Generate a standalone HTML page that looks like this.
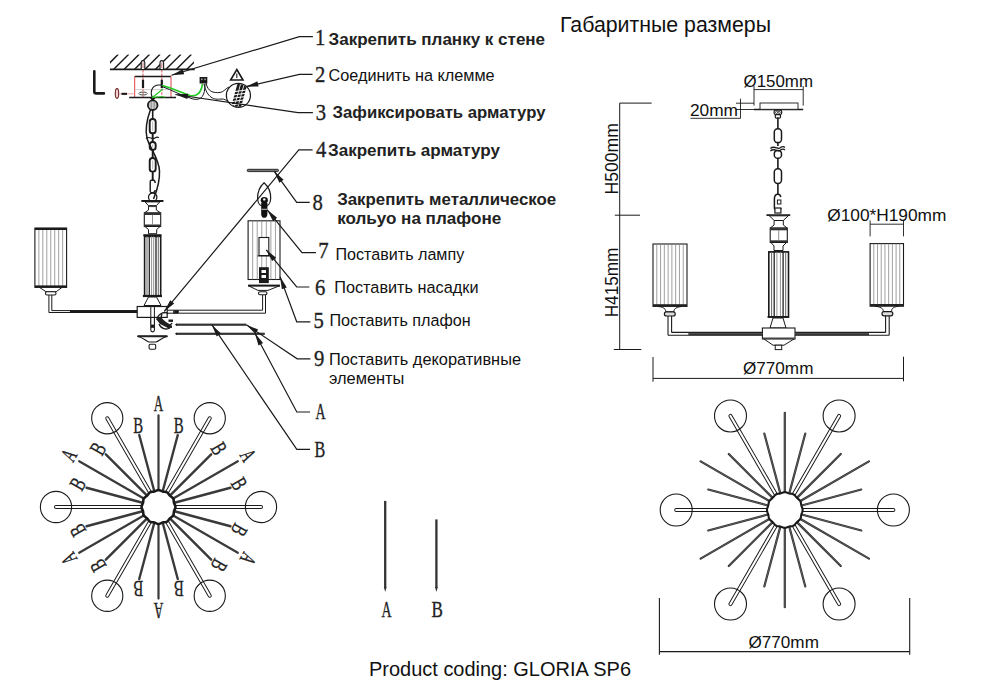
<!DOCTYPE html>
<html><head><meta charset="utf-8">
<style>
html,body{margin:0;padding:0;background:#fff;width:1000px;height:690px;overflow:hidden}
svg{display:block}
.s{font-family:"Liberation Sans",sans-serif;fill:#111}
.b{font-weight:bold;fill:#222}
.n{font-family:"Liberation Serif",serif;fill:#222;stroke:#222;stroke-width:0.35}
</style></head><body>
<svg width="1000" height="690" viewBox="0 0 1000 690">
<rect width="1000" height="690" fill="#fff"/>
<clipPath id="hc"><rect x="110" y="54.4" width="84" height="14.9"/></clipPath>
<g clip-path="url(#hc)">
<line x1="103.30" y1="69.30" x2="118.30" y2="54.30" stroke="#1a1a1a" stroke-width="1.5" />
<line x1="113.75" y1="69.30" x2="128.75" y2="54.30" stroke="#1a1a1a" stroke-width="1.5" />
<line x1="124.20" y1="69.30" x2="139.20" y2="54.30" stroke="#1a1a1a" stroke-width="1.5" />
<line x1="134.65" y1="69.30" x2="149.65" y2="54.30" stroke="#1a1a1a" stroke-width="1.5" />
<line x1="145.10" y1="69.30" x2="160.10" y2="54.30" stroke="#1a1a1a" stroke-width="1.5" />
<line x1="155.55" y1="69.30" x2="170.55" y2="54.30" stroke="#1a1a1a" stroke-width="1.5" />
<line x1="166.00" y1="69.30" x2="181.00" y2="54.30" stroke="#1a1a1a" stroke-width="1.5" />
<line x1="176.45" y1="69.30" x2="191.45" y2="54.30" stroke="#1a1a1a" stroke-width="1.5" />
<line x1="186.90" y1="69.30" x2="201.90" y2="54.30" stroke="#1a1a1a" stroke-width="1.5" />
<line x1="197.35" y1="69.30" x2="212.35" y2="54.30" stroke="#1a1a1a" stroke-width="1.5" />
</g>
<line x1="110.00" y1="69.30" x2="194.70" y2="69.30" stroke="#1a1a1a" stroke-width="1.8" />
<path d="M141.2,69 L141.2,62.5 C141.2,60 144.8,60 144.8,62.5 L144.8,69" fill="#eee" stroke="#1a1a1a" stroke-width="1.1" />
<line x1="143.00" y1="62.50" x2="143.00" y2="68.00" stroke="#c66" stroke-width="0.8" />
<path d="M160.0,69 L160.0,62.5 C160.0,60 163.60000000000002,60 163.60000000000002,62.5 L163.60000000000002,69" fill="#eee" stroke="#1a1a1a" stroke-width="1.1" />
<line x1="161.80" y1="62.50" x2="161.80" y2="68.00" stroke="#c66" stroke-width="0.8" />
<line x1="143.00" y1="70.00" x2="143.00" y2="97.30" stroke="#d55" stroke-width="1.0" stroke-dasharray="2.5,1.2"/>
<line x1="161.80" y1="70.00" x2="161.80" y2="97.30" stroke="#d55" stroke-width="1.0" stroke-dasharray="2.5,1.2"/>
<line x1="134.70" y1="76.40" x2="171.00" y2="76.40" stroke="#1a1a1a" stroke-width="1.5" />
<line x1="134.70" y1="76.40" x2="134.70" y2="97.50" stroke="#d44" stroke-width="1.0" />
<line x1="171.00" y1="76.40" x2="171.00" y2="97.50" stroke="#d44" stroke-width="1.0" />
<line x1="134.70" y1="89.60" x2="171.00" y2="89.60" stroke="#bbb" stroke-width="0.7" />
<line x1="129.20" y1="97.50" x2="176.00" y2="97.50" stroke="#1a1a1a" stroke-width="1.6" />
<rect x="141.90" y="79.70" width="2.20" height="8.30" fill="#1a1a1a" stroke="none" stroke-width="1.0" />
<rect x="160.70" y="79.70" width="2.20" height="8.30" fill="#1a1a1a" stroke="none" stroke-width="1.0" />
<ellipse cx="117" cy="93.5" rx="1.7" ry="4.9" fill="#f4d0d0" stroke="#6a2a2a" stroke-width="1.1"/>
<line x1="119.00" y1="93.80" x2="134.70" y2="93.80" stroke="#e99" stroke-width="0.9" />
<rect x="121.50" y="92.80" width="5.50" height="2.10" fill="#1a1a1a" stroke="none" stroke-width="1.0" />
<ellipse cx="143" cy="93.5" rx="4.2" ry="1.5" fill="none" stroke="#333" stroke-width="0.9"/>
<path d="M94.3,71.2 L94.3,91.5 Q94.3,93.4 96.2,93.4 L103.9,93.4" fill="none" stroke="#1a1a1a" stroke-width="2.6" stroke-linecap="round"/>
<path d="M162,85.5 C170,87 180,92 190,95.5 C197,97 201,93 202.5,84" fill="none" stroke="#2c2" stroke-width="1.6" />
<path d="M152,97.5 C156,95 160,91 163,89" fill="none" stroke="#2c2" stroke-width="1.1" />
<path d="M152,97.5 C155,97.5 161,96 165,97" fill="none" stroke="#2c2" stroke-width="1.0" />
<path d="M152,97 C150,91 152,86 158,85 L162,85" fill="none" stroke="#1a1a1a" stroke-width="1.1" />
<path d="M162,86.5 C172,90 182,96 193,99 C202,101 205,95 205,84" fill="none" stroke="#1a1a1a" stroke-width="1.0" />
<rect x="199.60" y="77.00" width="7.70" height="6.50" fill="#1a1a1a" stroke="none" stroke-width="1.0" />
<rect x="201.00" y="78.50" width="1.60" height="1.60" fill="#999" stroke="none" stroke-width="1.0" />
<rect x="204.20" y="78.50" width="1.60" height="1.60" fill="#999" stroke="none" stroke-width="1.0" />
<path d="M206,83 C208,92 213,93 220,92.5 C224,92 226,88 229,87" fill="none" stroke="#1a1a1a" stroke-width="1.0" />
<path d="M204,84 C207,98 214,100 221,99 C225,98.5 227,101 229,103" fill="none" stroke="#1a1a1a" stroke-width="1.0" />
<circle cx="238.40" cy="95.40" r="12.00" fill="#fff" stroke="#1a1a1a" stroke-width="1.3"/>
<clipPath id="cz"><circle cx="238.4" cy="95.4" r="11.4"/></clipPath><g clip-path="url(#cz)">
<polygon points="230.50,109.00 233.30,109.00 241.00,81.00 238.20,81.00" fill="#1a1a1a" stroke="none" stroke-width="0"/>
<polygon points="234.10,109.00 236.90,109.00 244.60,81.00 241.80,81.00" fill="#1a1a1a" stroke="none" stroke-width="0"/>
<polygon points="237.70,109.00 240.50,109.00 248.20,81.00 245.40,81.00" fill="#1a1a1a" stroke="none" stroke-width="0"/>
<line x1="224.00" y1="93.00" x2="254.00" y2="89.00" stroke="#fff" stroke-width="1.0" />
<line x1="224.00" y1="96.20" x2="254.00" y2="92.20" stroke="#fff" stroke-width="1.0" />
<line x1="224.00" y1="99.40" x2="254.00" y2="95.40" stroke="#fff" stroke-width="1.0" />
<line x1="224.00" y1="102.60" x2="254.00" y2="98.60" stroke="#fff" stroke-width="1.0" />
<line x1="224.00" y1="105.80" x2="254.00" y2="101.80" stroke="#fff" stroke-width="1.0" />
</g>
<polygon points="236.80,69.50 243.00,80.00 230.60,80.00" fill="none" stroke="#1a1a1a" stroke-width="1.6"/>
<line x1="236.80" y1="73.50" x2="236.80" y2="78.00" stroke="#1a1a1a" stroke-width="1.1" />
<polygon points="150.00,98.00 155.50,98.00 152.70,101.50" fill="#1a1a1a" stroke="none" stroke-width="0"/>
<circle cx="152.70" cy="105.20" r="4.80" fill="#ccc" stroke="#1a1a1a" stroke-width="1.8"/>
<line x1="151.20" y1="101.00" x2="151.20" y2="109.00" stroke="#777" stroke-width="0.8" />
<line x1="154.20" y1="101.00" x2="154.20" y2="109.00" stroke="#777" stroke-width="0.8" />
<line x1="152.70" y1="110.00" x2="152.70" y2="119.00" stroke="#1a1a1a" stroke-width="1.6" />
<rect x="149.70" y="119.00" width="6.0" height="14.30" rx="2.9" fill="#fff" stroke="#1a1a1a" stroke-width="1.9"/>
<line x1="152.70" y1="121.50" x2="152.70" y2="130.80" stroke="#999" stroke-width="0.7" />
<rect x="149.70" y="142.00" width="6.0" height="8.00" rx="2.9" fill="#fff" stroke="#1a1a1a" stroke-width="1.9"/>
<line x1="152.70" y1="144.50" x2="152.70" y2="147.50" stroke="#999" stroke-width="0.7" />
<rect x="149.70" y="158.00" width="6.0" height="13.60" rx="2.9" fill="#fff" stroke="#1a1a1a" stroke-width="1.9"/>
<line x1="152.70" y1="160.50" x2="152.70" y2="169.10" stroke="#999" stroke-width="0.7" />
<line x1="152.70" y1="133.30" x2="152.70" y2="142.00" stroke="#1a1a1a" stroke-width="1.9" />
<line x1="152.70" y1="150.00" x2="152.70" y2="158.00" stroke="#1a1a1a" stroke-width="1.9" />
<line x1="152.70" y1="171.60" x2="152.70" y2="181.00" stroke="#1a1a1a" stroke-width="1.9" />
<path d="M150.2,182 C150.2,179 155.2,179 155.2,183 M150.2,182 L150.2,191 C150.7,194 155.2,193 155.2,190" fill="none" stroke="#1a1a1a" stroke-width="1.4" />
<circle cx="152.70" cy="197.20" r="4.20" fill="#fff" stroke="#1a1a1a" stroke-width="1.3"/>
<path d="M150.5,109.5 C146,122 145.5,132 147,138 C149,147 159,158 159.5,171 C160,183 156,193 153.5,199" fill="none" stroke="#1a1a1a" stroke-width="1.5" />
<path d="M146,138.5 C149,135.5 152,140 155,138 C156.5,137 158,137 158.7,138" fill="none" stroke="#1a1a1a" stroke-width="1.1" />
<rect x="141.10" y="200.10" width="22.60" height="1.80" fill="#1a1a1a" stroke="none" stroke-width="1.0" rx="0.8"/>
<polygon points="145.00,201.90 159.80,201.90 156.30,205.70 148.50,205.70" fill="#fff" stroke="#1a1a1a" stroke-width="1"/>
<polygon points="148.50,205.70 156.30,205.70 156.30,210.00 160.70,213.00 144.30,213.00 148.50,210.00" fill="#fff" stroke="#1a1a1a" stroke-width="1"/>
<rect x="148.50" y="205.70" width="7.80" height="1.40" fill="#444" stroke="none" stroke-width="1.0" />
<rect x="144.30" y="213.00" width="16.40" height="13.50" fill="#fff" stroke="#1a1a1a" stroke-width="1.1" />
<rect x="144.30" y="213.00" width="16.40" height="2.00" fill="#333" stroke="none" stroke-width="1.0" />
<rect x="144.30" y="224.50" width="16.40" height="2.00" fill="#333" stroke="none" stroke-width="1.0" />
<line x1="152.50" y1="215.00" x2="152.50" y2="224.50" stroke="#777" stroke-width="0.8" />
<polygon points="145.00,226.50 160.00,226.50 156.70,229.50 156.70,233.70 148.50,233.70 148.50,229.50" fill="#fff" stroke="#1a1a1a" stroke-width="1"/>
<rect x="143.30" y="234.20" width="18.20" height="2.20" fill="#1a1a1a" stroke="none" stroke-width="1.0" />
<rect x="144.60" y="236.40" width="16.10" height="59.40" fill="#fff" stroke="#1a1a1a" stroke-width="1.6" />
<line x1="147.00" y1="236.40" x2="147.00" y2="295.80" stroke="#666" stroke-width="1.0" />
<line x1="149.30" y1="236.40" x2="149.30" y2="295.80" stroke="#222" stroke-width="1.3" />
<line x1="151.60" y1="236.40" x2="151.60" y2="295.80" stroke="#888" stroke-width="0.9" />
<line x1="153.70" y1="236.40" x2="153.70" y2="295.80" stroke="#888" stroke-width="0.9" />
<line x1="156.00" y1="236.40" x2="156.00" y2="295.80" stroke="#222" stroke-width="1.3" />
<line x1="158.30" y1="236.40" x2="158.30" y2="295.80" stroke="#666" stroke-width="1.0" />
<rect x="142.90" y="294.90" width="19.10" height="2.20" fill="#1a1a1a" stroke="none" stroke-width="1.0" />
<polygon points="148.50,297.00 156.50,297.00 161.00,305.50 144.00,305.50" fill="#fff" stroke="#1a1a1a" stroke-width="1"/>
<rect x="137.20" y="306.50" width="30.00" height="10.90" fill="#fff" stroke="#1a1a1a" stroke-width="1.2" />
<line x1="150.80" y1="306.50" x2="150.80" y2="324.00" stroke="#1a1a1a" stroke-width="1.0" />
<line x1="154.40" y1="306.50" x2="154.40" y2="324.00" stroke="#1a1a1a" stroke-width="1.0" />
<path d="M150.8,318 L150.8,330 C150.8,332.5 154.4,332.5 154.4,330 L154.4,318" fill="#fff" stroke="#1a1a1a" stroke-width="1.1" />
<rect x="150.80" y="324.60" width="3.60" height="3.20" fill="#1a1a1a" stroke="none" stroke-width="1.0" />
<path d="M157,319.5 C158,313 166,311 168,314" fill="none" stroke="#1a1a1a" stroke-width="1.3" />
<path d="M162,314 C160,317 162,322 166,324 C169,326 171,325 172,323" fill="none" stroke="#1a1a1a" stroke-width="1.4" />
<polygon points="156.00,319.00 160.00,317.00 166.00,322.00 171.00,325.00 168.00,328.00 160.00,324.00" fill="#222" stroke="none" stroke-width="0"/>
<path d="M159,324 C161,329 166,330 170,328" fill="none" stroke="#1a1a1a" stroke-width="1.3" />
<rect x="168.50" y="319.50" width="4.50" height="2.40" fill="#1a1a1a" stroke="none" stroke-width="1.0" />
<rect x="167.50" y="325.50" width="4.50" height="2.40" fill="#1a1a1a" stroke="none" stroke-width="1.0" />
<rect x="173.00" y="310.40" width="5.00" height="3.20" fill="#444" stroke="none" stroke-width="1.0" />
<path d="M137.5,336.2 L167.5,336.2 C162,337.5 159,341 156,342 L148.8,342 C146,341 143,337.5 137.5,336.2 Z" fill="#fff" stroke="#1a1a1a" stroke-width="1.1" />
<rect x="137.20" y="335.30" width="30.50" height="1.90" fill="#222" stroke="none" stroke-width="1.0" rx="0.9"/>
<rect x="149.10" y="344.20" width="6.60" height="5.10" fill="#fff" stroke="#1a1a1a" stroke-width="1.1" rx="1.2"/>
<rect x="34.90" y="228.00" width="31.70" height="59.40" fill="#fff" stroke="#1a1a1a" stroke-width="1.1" />
<line x1="38.86" y1="228.00" x2="38.86" y2="287.40" stroke="#808080" stroke-width="0.75" />
<line x1="42.82" y1="228.00" x2="42.82" y2="287.40" stroke="#808080" stroke-width="0.75" />
<line x1="46.79" y1="228.00" x2="46.79" y2="287.40" stroke="#808080" stroke-width="0.75" />
<line x1="50.75" y1="228.00" x2="50.75" y2="287.40" stroke="#808080" stroke-width="0.75" />
<line x1="54.71" y1="228.00" x2="54.71" y2="287.40" stroke="#808080" stroke-width="0.75" />
<line x1="58.67" y1="228.00" x2="58.67" y2="287.40" stroke="#808080" stroke-width="0.75" />
<line x1="62.64" y1="228.00" x2="62.64" y2="287.40" stroke="#808080" stroke-width="0.75" />
<rect x="34.90" y="228.00" width="31.70" height="2.00" fill="#1a1a1a" stroke="none" stroke-width="1.0" />
<rect x="34.90" y="285.40" width="31.70" height="2.00" fill="#1a1a1a" stroke="none" stroke-width="1.0" />
<polygon points="39.50,287.40 62.00,287.40 56.20,291.70 46.00,291.70" fill="#fff" stroke="#1a1a1a" stroke-width="1"/>
<rect x="45.50" y="291.80" width="10.50" height="3.20" fill="#fff" stroke="#1a1a1a" stroke-width="1.1" rx="1.5"/>
<line x1="48.90" y1="295.00" x2="48.90" y2="312.50" stroke="#1a1a1a" stroke-width="1" />
<line x1="51.80" y1="295.00" x2="51.80" y2="310.60" stroke="#1a1a1a" stroke-width="1" />
<line x1="48.90" y1="312.50" x2="137.00" y2="312.50" stroke="#1a1a1a" stroke-width="1.0" />
<line x1="51.80" y1="310.60" x2="137.00" y2="310.60" stroke="#1a1a1a" stroke-width="1.0" />
<rect x="69.90" y="310.40" width="67.10" height="2.60" fill="#1a1a1a" stroke="none" stroke-width="1.0" />
<line x1="167.40" y1="310.20" x2="262.60" y2="310.20" stroke="#1a1a1a" stroke-width="1.0" />
<line x1="167.40" y1="313.20" x2="265.50" y2="313.20" stroke="#1a1a1a" stroke-width="1.0" />
<line x1="262.60" y1="310.20" x2="262.60" y2="294.70" stroke="#1a1a1a" stroke-width="1.0" />
<line x1="265.50" y1="313.20" x2="265.50" y2="294.70" stroke="#1a1a1a" stroke-width="1.0" />
<rect x="174.80" y="310.40" width="4.00" height="2.60" fill="#1a1a1a" stroke="none" stroke-width="1.0" />
<rect x="258.50" y="291.80" width="8.50" height="3.00" fill="#fff" stroke="#1a1a1a" stroke-width="1.1" rx="1.5"/>
<polygon points="248.10,285.60 280.00,285.60 268.00,290.40 258.00,290.40" fill="#fff" stroke="#1a1a1a" stroke-width="1"/>
<rect x="248.10" y="284.60" width="31.90" height="2.00" fill="#1a1a1a" stroke="none" stroke-width="1.0" />
<rect x="248.10" y="220.80" width="31.90" height="58.70" fill="#fff" stroke="#1a1a1a" stroke-width="1.1" />
<line x1="252.66" y1="220.80" x2="252.66" y2="279.50" stroke="#808080" stroke-width="0.75" />
<line x1="257.21" y1="220.80" x2="257.21" y2="279.50" stroke="#808080" stroke-width="0.75" />
<line x1="261.77" y1="220.80" x2="261.77" y2="279.50" stroke="#808080" stroke-width="0.75" />
<line x1="266.33" y1="220.80" x2="266.33" y2="279.50" stroke="#808080" stroke-width="0.75" />
<line x1="270.89" y1="220.80" x2="270.89" y2="279.50" stroke="#808080" stroke-width="0.75" />
<line x1="275.44" y1="220.80" x2="275.44" y2="279.50" stroke="#808080" stroke-width="0.75" />
<rect x="259.00" y="237.50" width="9.80" height="18.10" fill="#fff" stroke="#1a1a1a" stroke-width="1.1" />
<line x1="257.50" y1="255.90" x2="270.00" y2="255.90" stroke="#1a1a1a" stroke-width="1.1" />
<rect x="259.00" y="267.20" width="9.80" height="15.90" fill="#1a1a1a" stroke="none" stroke-width="1.0" />
<rect x="261.50" y="270.00" width="4.50" height="3.00" fill="#fff" stroke="none" stroke-width="1.0" />
<rect x="261.50" y="275.00" width="4.50" height="3.00" fill="#fff" stroke="none" stroke-width="1.0" />
<path d="M264.1,182.8 C260,186.5 257.4,192.5 257.6,198.5 C257.8,203.5 260.5,206.5 264.1,206.5 C267.7,206.5 270.5,203.5 270.7,198.5 C270.9,192.5 268.2,186.5 264.1,182.8 Z" fill="none" stroke="#1a1a1a" stroke-width="1.2" />
<ellipse cx="264.3" cy="200.3" rx="3.6" ry="3.2" fill="#111"/>
<circle cx="264.30" cy="199.40" r="1.20" fill="#fff" stroke="none" stroke-width="1.0"/>
<path d="M261.2,203 L267.4,203 L267.4,214 C267.4,217 265.5,217.8 264.3,217.8 C263,217.8 261.2,217 261.2,214 Z" fill="#111" stroke="none" stroke-width="1.0" />
<line x1="261.50" y1="209.30" x2="267.00" y2="209.30" stroke="#ddd" stroke-width="0.9" />
<rect x="247.20" y="169.30" width="31.30" height="2.30" fill="#777" stroke="#1a1a1a" stroke-width="0.9" rx="1.1"/>
<rect x="176.00" y="323.60" width="70.30" height="2.20" fill="#333" stroke="none" stroke-width="1.0" />
<polygon points="174.60,324.70 177.00,323.60 177.00,325.80" fill="#1a1a1a" stroke="none" stroke-width="0"/>
<rect x="176.00" y="332.70" width="88.80" height="2.20" fill="#333" stroke="none" stroke-width="1.0" />
<polygon points="174.60,333.80 177.00,332.70 177.00,334.90" fill="#1a1a1a" stroke="none" stroke-width="0"/>
<polyline points="312.90,36.60 299.40,36.60 171.50,75.30" fill="none" stroke="#1a1a1a" stroke-width="1.2" />
<polygon points="171.50,75.30 182.71,69.19 184.22,74.17" fill="#1a1a1a" stroke="none" stroke-width="0"/>
<polyline points="312.50,74.30 299.40,74.30 245.80,86.70" fill="none" stroke="#1a1a1a" stroke-width="1.2" />
<polygon points="245.80,86.70 257.39,81.35 258.56,86.42" fill="#1a1a1a" stroke="none" stroke-width="0"/>
<polyline points="312.90,112.70 298.00,112.70 175.40,94.50" fill="none" stroke="#1a1a1a" stroke-width="1.2" />
<polygon points="175.40,94.50 188.15,93.76 187.38,98.91" fill="#1a1a1a" stroke="none" stroke-width="0"/>
<polyline points="312.60,149.90 298.80,149.90 164.20,311.40" fill="none" stroke="#1a1a1a" stroke-width="1.2" />
<polygon points="164.20,311.40 170.21,300.13 174.20,303.46" fill="#1a1a1a" stroke="none" stroke-width="0"/>
<polyline points="309.70,202.30 296.70,202.30 274.10,171.10" fill="none" stroke="#1a1a1a" stroke-width="1.2" />
<polygon points="274.10,171.10 283.54,179.70 279.33,182.75" fill="#1a1a1a" stroke="none" stroke-width="0"/>
<polyline points="315.90,252.60 302.00,252.60 267.20,209.80" fill="none" stroke="#1a1a1a" stroke-width="1.2" />
<polygon points="267.20,209.80 277.10,217.86 273.07,221.14" fill="#1a1a1a" stroke="none" stroke-width="0"/>
<polyline points="309.30,287.00 296.70,287.00 266.20,249.80" fill="none" stroke="#1a1a1a" stroke-width="1.2" />
<polygon points="266.20,249.80 276.14,257.82 272.11,261.11" fill="#1a1a1a" stroke="none" stroke-width="0"/>
<polyline points="310.40,321.80 296.70,321.80 280.00,276.60" fill="none" stroke="#1a1a1a" stroke-width="1.2" />
<polygon points="280.00,276.60 286.77,287.42 281.89,289.23" fill="#1a1a1a" stroke="none" stroke-width="0"/>
<polyline points="310.40,358.80 297.20,358.80 246.30,324.70" fill="none" stroke="#1a1a1a" stroke-width="1.2" />
<polygon points="246.30,324.70 258.13,329.50 255.24,333.82" fill="#1a1a1a" stroke="none" stroke-width="0"/>
<polyline points="310.00,412.00 296.80,412.00 254.90,333.30" fill="none" stroke="#1a1a1a" stroke-width="1.2" />
<polygon points="254.90,333.30 263.07,343.11 258.48,345.56" fill="#1a1a1a" stroke="none" stroke-width="0"/>
<polyline points="310.00,449.40 296.80,449.40 211.80,324.70" fill="none" stroke="#1a1a1a" stroke-width="1.2" />
<polygon points="211.80,324.70 220.99,333.56 216.69,336.49" fill="#1a1a1a" stroke="none" stroke-width="0"/>
<line x1="175.00" y1="507.00" x2="261.00" y2="507.00" stroke="#1a1a1a" stroke-width="4" stroke-linecap="round"/>
<line x1="175.00" y1="507.00" x2="261.00" y2="507.00" stroke="#fff" stroke-width="2.1" stroke-linecap="round"/>
<circle cx="261.00" cy="507.00" r="15.60" fill="none" stroke="#1a1a1a" stroke-width="1.1"/>
<line x1="174.44" y1="502.73" x2="230.46" y2="487.72" stroke="#3a3a3a" stroke-width="2.4" stroke-linecap="round"/>
<g transform="translate(239.25,483.85) rotate(60.0) scale(0.66,1)"><text class="n" x="0" y="7.5" font-size="22.5" text-anchor="middle">B</text></g>
<line x1="172.79" y1="498.75" x2="237.83" y2="461.20" stroke="#3a3a3a" stroke-width="2.2" stroke-linecap="round"/>
<g transform="translate(248.13,455.25) rotate(60.0) scale(0.585,1)"><text class="n" x="0" y="7.5" font-size="22.5" text-anchor="middle">A</text></g>
<line x1="170.17" y1="495.33" x2="211.18" y2="454.32" stroke="#3a3a3a" stroke-width="2.4" stroke-linecap="round"/>
<g transform="translate(218.92,448.65) rotate(60.0) scale(0.66,1)"><text class="n" x="0" y="7.5" font-size="22.5" text-anchor="middle">B</text></g>
<line x1="166.75" y1="492.71" x2="209.75" y2="418.23" stroke="#1a1a1a" stroke-width="4" stroke-linecap="round"/>
<line x1="166.75" y1="492.71" x2="209.75" y2="418.23" stroke="#fff" stroke-width="2.1" stroke-linecap="round"/>
<circle cx="209.75" cy="418.23" r="15.60" fill="none" stroke="#1a1a1a" stroke-width="1.1"/>
<line x1="162.77" y1="491.06" x2="177.78" y2="435.04" stroke="#3a3a3a" stroke-width="2.4" stroke-linecap="round"/>
<g transform="translate(178.82,425.50) rotate(0.0) scale(0.66,1)"><text class="n" x="0" y="7.5" font-size="22.5" text-anchor="middle">B</text></g>
<line x1="158.50" y1="490.50" x2="158.50" y2="415.40" stroke="#3a3a3a" stroke-width="2.2" stroke-linecap="round"/>
<g transform="translate(158.50,403.50) rotate(0.0) scale(0.585,1)"><text class="n" x="0" y="7.5" font-size="22.5" text-anchor="middle">A</text></g>
<line x1="154.23" y1="491.06" x2="139.22" y2="435.04" stroke="#3a3a3a" stroke-width="2.4" stroke-linecap="round"/>
<g transform="translate(138.18,425.50) rotate(0.0) scale(0.66,1)"><text class="n" x="0" y="7.5" font-size="22.5" text-anchor="middle">B</text></g>
<line x1="150.25" y1="492.71" x2="107.25" y2="418.23" stroke="#1a1a1a" stroke-width="4" stroke-linecap="round"/>
<line x1="150.25" y1="492.71" x2="107.25" y2="418.23" stroke="#fff" stroke-width="2.1" stroke-linecap="round"/>
<circle cx="107.25" cy="418.23" r="15.60" fill="none" stroke="#1a1a1a" stroke-width="1.1"/>
<line x1="146.83" y1="495.33" x2="105.82" y2="454.32" stroke="#3a3a3a" stroke-width="2.4" stroke-linecap="round"/>
<g transform="translate(98.08,448.65) rotate(-60.0) scale(0.66,1)"><text class="n" x="0" y="7.5" font-size="22.5" text-anchor="middle">B</text></g>
<line x1="144.21" y1="498.75" x2="79.17" y2="461.20" stroke="#3a3a3a" stroke-width="2.2" stroke-linecap="round"/>
<g transform="translate(68.87,455.25) rotate(-60.0) scale(0.585,1)"><text class="n" x="0" y="7.5" font-size="22.5" text-anchor="middle">A</text></g>
<line x1="142.56" y1="502.73" x2="86.54" y2="487.72" stroke="#3a3a3a" stroke-width="2.4" stroke-linecap="round"/>
<g transform="translate(77.75,483.85) rotate(-60.0) scale(0.66,1)"><text class="n" x="0" y="7.5" font-size="22.5" text-anchor="middle">B</text></g>
<line x1="142.00" y1="507.00" x2="56.00" y2="507.00" stroke="#1a1a1a" stroke-width="4" stroke-linecap="round"/>
<line x1="142.00" y1="507.00" x2="56.00" y2="507.00" stroke="#fff" stroke-width="2.1" stroke-linecap="round"/>
<circle cx="56.00" cy="507.00" r="15.60" fill="none" stroke="#1a1a1a" stroke-width="1.1"/>
<line x1="142.56" y1="511.27" x2="86.54" y2="526.28" stroke="#3a3a3a" stroke-width="2.4" stroke-linecap="round"/>
<g transform="translate(77.75,530.15) rotate(-120.0) scale(0.66,1)"><text class="n" x="0" y="7.5" font-size="22.5" text-anchor="middle">B</text></g>
<line x1="144.21" y1="515.25" x2="79.17" y2="552.80" stroke="#3a3a3a" stroke-width="2.2" stroke-linecap="round"/>
<g transform="translate(68.87,558.75) rotate(-120.0) scale(0.585,1)"><text class="n" x="0" y="7.5" font-size="22.5" text-anchor="middle">A</text></g>
<line x1="146.83" y1="518.67" x2="105.82" y2="559.68" stroke="#3a3a3a" stroke-width="2.4" stroke-linecap="round"/>
<g transform="translate(98.08,565.35) rotate(-120.0) scale(0.66,1)"><text class="n" x="0" y="7.5" font-size="22.5" text-anchor="middle">B</text></g>
<line x1="150.25" y1="521.29" x2="107.25" y2="595.77" stroke="#1a1a1a" stroke-width="4" stroke-linecap="round"/>
<line x1="150.25" y1="521.29" x2="107.25" y2="595.77" stroke="#fff" stroke-width="2.1" stroke-linecap="round"/>
<circle cx="107.25" cy="595.77" r="15.60" fill="none" stroke="#1a1a1a" stroke-width="1.1"/>
<line x1="154.23" y1="522.94" x2="139.22" y2="578.96" stroke="#3a3a3a" stroke-width="2.4" stroke-linecap="round"/>
<g transform="translate(138.18,588.50) rotate(-180.0) scale(0.66,1)"><text class="n" x="0" y="7.5" font-size="22.5" text-anchor="middle">B</text></g>
<line x1="158.50" y1="523.50" x2="158.50" y2="598.60" stroke="#3a3a3a" stroke-width="2.2" stroke-linecap="round"/>
<g transform="translate(158.50,610.50) rotate(-180.0) scale(0.585,1)"><text class="n" x="0" y="7.5" font-size="22.5" text-anchor="middle">A</text></g>
<line x1="162.77" y1="522.94" x2="177.78" y2="578.96" stroke="#3a3a3a" stroke-width="2.4" stroke-linecap="round"/>
<g transform="translate(178.82,588.50) rotate(-180.0) scale(0.66,1)"><text class="n" x="0" y="7.5" font-size="22.5" text-anchor="middle">B</text></g>
<line x1="166.75" y1="521.29" x2="209.75" y2="595.77" stroke="#1a1a1a" stroke-width="4" stroke-linecap="round"/>
<line x1="166.75" y1="521.29" x2="209.75" y2="595.77" stroke="#fff" stroke-width="2.1" stroke-linecap="round"/>
<circle cx="209.75" cy="595.77" r="15.60" fill="none" stroke="#1a1a1a" stroke-width="1.1"/>
<line x1="170.17" y1="518.67" x2="211.18" y2="559.68" stroke="#3a3a3a" stroke-width="2.4" stroke-linecap="round"/>
<g transform="translate(218.92,565.35) rotate(-240.0) scale(0.66,1)"><text class="n" x="0" y="7.5" font-size="22.5" text-anchor="middle">B</text></g>
<line x1="172.79" y1="515.25" x2="237.83" y2="552.80" stroke="#3a3a3a" stroke-width="2.2" stroke-linecap="round"/>
<g transform="translate(248.13,558.75) rotate(-240.0) scale(0.585,1)"><text class="n" x="0" y="7.5" font-size="22.5" text-anchor="middle">A</text></g>
<line x1="174.44" y1="511.27" x2="230.46" y2="526.28" stroke="#3a3a3a" stroke-width="2.4" stroke-linecap="round"/>
<g transform="translate(239.25,530.15) rotate(-240.0) scale(0.66,1)"><text class="n" x="0" y="7.5" font-size="22.5" text-anchor="middle">B</text></g>
<polygon points="175.45,507.00 175.28,508.10 174.86,509.15 174.37,510.16 174.00,511.15 173.82,512.20 173.74,513.31 173.58,514.44 173.18,515.48 172.48,516.34 171.59,517.04 170.67,517.67 169.85,518.35 169.17,519.17 168.54,520.09 167.84,520.98 166.97,521.68 165.94,522.08 164.81,522.24 163.70,522.32 162.65,522.50 161.66,522.87 160.65,523.36 159.60,523.78 158.50,523.95 157.40,523.78 156.35,523.36 155.34,522.87 154.35,522.50 153.30,522.32 152.19,522.24 151.06,522.08 150.03,521.68 149.16,520.98 148.46,520.09 147.83,519.17 147.15,518.35 146.33,517.67 145.41,517.04 144.52,516.34 143.82,515.48 143.42,514.44 143.26,513.31 143.18,512.20 143.00,511.15 142.63,510.16 142.14,509.15 141.72,508.10 141.55,507.00 141.72,505.90 142.14,504.85 142.63,503.84 143.00,502.85 143.18,501.80 143.26,500.69 143.42,499.56 143.82,498.52 144.52,497.66 145.41,496.96 146.33,496.33 147.15,495.65 147.83,494.83 148.46,493.91 149.16,493.02 150.03,492.32 151.06,491.92 152.19,491.76 153.30,491.68 154.35,491.50 155.34,491.13 156.35,490.64 157.40,490.22 158.50,490.05 159.60,490.22 160.65,490.64 161.66,491.13 162.65,491.50 163.70,491.68 164.81,491.76 165.94,491.92 166.97,492.32 167.84,493.02 168.54,493.91 169.17,494.83 169.85,495.65 170.67,496.33 171.59,496.96 172.48,497.66 173.18,498.52 173.58,499.56 173.74,500.69 173.82,501.80 174.00,502.85 174.37,503.84 174.86,504.85 175.28,505.90" fill="#fff" stroke="#1a1a1a" stroke-width="2.6"/>
<line x1="802.30" y1="510.00" x2="893.40" y2="510.00" stroke="#1a1a1a" stroke-width="4" stroke-linecap="round"/>
<line x1="802.30" y1="510.00" x2="893.40" y2="510.00" stroke="#fff" stroke-width="2.1" stroke-linecap="round"/>
<circle cx="893.40" cy="510.00" r="16.00" fill="none" stroke="#1a1a1a" stroke-width="1.1"/>
<line x1="801.70" y1="505.47" x2="861.30" y2="489.50" stroke="#2e2e2e" stroke-width="2.2" stroke-linecap="round"/>
<line x1="801.70" y1="505.47" x2="861.30" y2="489.50" stroke="#8a8a8a" stroke-width="0.5" stroke-linecap="round"/>
<line x1="799.96" y1="501.25" x2="868.98" y2="461.40" stroke="#2e2e2e" stroke-width="2.2" stroke-linecap="round"/>
<line x1="799.96" y1="501.25" x2="868.98" y2="461.40" stroke="#8a8a8a" stroke-width="0.5" stroke-linecap="round"/>
<line x1="797.17" y1="497.63" x2="840.80" y2="454.00" stroke="#2e2e2e" stroke-width="2.2" stroke-linecap="round"/>
<line x1="797.17" y1="497.63" x2="840.80" y2="454.00" stroke="#8a8a8a" stroke-width="0.5" stroke-linecap="round"/>
<line x1="793.55" y1="494.84" x2="839.10" y2="415.95" stroke="#1a1a1a" stroke-width="4" stroke-linecap="round"/>
<line x1="793.55" y1="494.84" x2="839.10" y2="415.95" stroke="#fff" stroke-width="2.1" stroke-linecap="round"/>
<circle cx="839.10" cy="415.95" r="16.00" fill="none" stroke="#1a1a1a" stroke-width="1.1"/>
<line x1="789.33" y1="493.10" x2="805.30" y2="433.50" stroke="#2e2e2e" stroke-width="2.2" stroke-linecap="round"/>
<line x1="789.33" y1="493.10" x2="805.30" y2="433.50" stroke="#8a8a8a" stroke-width="0.5" stroke-linecap="round"/>
<line x1="784.80" y1="492.50" x2="784.80" y2="412.80" stroke="#2e2e2e" stroke-width="2.2" stroke-linecap="round"/>
<line x1="784.80" y1="492.50" x2="784.80" y2="412.80" stroke="#8a8a8a" stroke-width="0.5" stroke-linecap="round"/>
<line x1="780.27" y1="493.10" x2="764.30" y2="433.50" stroke="#2e2e2e" stroke-width="2.2" stroke-linecap="round"/>
<line x1="780.27" y1="493.10" x2="764.30" y2="433.50" stroke="#8a8a8a" stroke-width="0.5" stroke-linecap="round"/>
<line x1="776.05" y1="494.84" x2="730.50" y2="415.95" stroke="#1a1a1a" stroke-width="4" stroke-linecap="round"/>
<line x1="776.05" y1="494.84" x2="730.50" y2="415.95" stroke="#fff" stroke-width="2.1" stroke-linecap="round"/>
<circle cx="730.50" cy="415.95" r="16.00" fill="none" stroke="#1a1a1a" stroke-width="1.1"/>
<line x1="772.43" y1="497.63" x2="728.80" y2="454.00" stroke="#2e2e2e" stroke-width="2.2" stroke-linecap="round"/>
<line x1="772.43" y1="497.63" x2="728.80" y2="454.00" stroke="#8a8a8a" stroke-width="0.5" stroke-linecap="round"/>
<line x1="769.64" y1="501.25" x2="700.62" y2="461.40" stroke="#2e2e2e" stroke-width="2.2" stroke-linecap="round"/>
<line x1="769.64" y1="501.25" x2="700.62" y2="461.40" stroke="#8a8a8a" stroke-width="0.5" stroke-linecap="round"/>
<line x1="767.90" y1="505.47" x2="708.30" y2="489.50" stroke="#2e2e2e" stroke-width="2.2" stroke-linecap="round"/>
<line x1="767.90" y1="505.47" x2="708.30" y2="489.50" stroke="#8a8a8a" stroke-width="0.5" stroke-linecap="round"/>
<line x1="767.30" y1="510.00" x2="676.20" y2="510.00" stroke="#1a1a1a" stroke-width="4" stroke-linecap="round"/>
<line x1="767.30" y1="510.00" x2="676.20" y2="510.00" stroke="#fff" stroke-width="2.1" stroke-linecap="round"/>
<circle cx="676.20" cy="510.00" r="16.00" fill="none" stroke="#1a1a1a" stroke-width="1.1"/>
<line x1="767.90" y1="514.53" x2="708.30" y2="530.50" stroke="#2e2e2e" stroke-width="2.2" stroke-linecap="round"/>
<line x1="767.90" y1="514.53" x2="708.30" y2="530.50" stroke="#8a8a8a" stroke-width="0.5" stroke-linecap="round"/>
<line x1="769.64" y1="518.75" x2="700.62" y2="558.60" stroke="#2e2e2e" stroke-width="2.2" stroke-linecap="round"/>
<line x1="769.64" y1="518.75" x2="700.62" y2="558.60" stroke="#8a8a8a" stroke-width="0.5" stroke-linecap="round"/>
<line x1="772.43" y1="522.37" x2="728.80" y2="566.00" stroke="#2e2e2e" stroke-width="2.2" stroke-linecap="round"/>
<line x1="772.43" y1="522.37" x2="728.80" y2="566.00" stroke="#8a8a8a" stroke-width="0.5" stroke-linecap="round"/>
<line x1="776.05" y1="525.16" x2="730.50" y2="604.05" stroke="#1a1a1a" stroke-width="4" stroke-linecap="round"/>
<line x1="776.05" y1="525.16" x2="730.50" y2="604.05" stroke="#fff" stroke-width="2.1" stroke-linecap="round"/>
<circle cx="730.50" cy="604.05" r="16.00" fill="none" stroke="#1a1a1a" stroke-width="1.1"/>
<line x1="780.27" y1="526.90" x2="764.30" y2="586.50" stroke="#2e2e2e" stroke-width="2.2" stroke-linecap="round"/>
<line x1="780.27" y1="526.90" x2="764.30" y2="586.50" stroke="#8a8a8a" stroke-width="0.5" stroke-linecap="round"/>
<line x1="784.80" y1="527.50" x2="784.80" y2="607.20" stroke="#2e2e2e" stroke-width="2.2" stroke-linecap="round"/>
<line x1="784.80" y1="527.50" x2="784.80" y2="607.20" stroke="#8a8a8a" stroke-width="0.5" stroke-linecap="round"/>
<line x1="789.33" y1="526.90" x2="805.30" y2="586.50" stroke="#2e2e2e" stroke-width="2.2" stroke-linecap="round"/>
<line x1="789.33" y1="526.90" x2="805.30" y2="586.50" stroke="#8a8a8a" stroke-width="0.5" stroke-linecap="round"/>
<line x1="793.55" y1="525.16" x2="839.10" y2="604.05" stroke="#1a1a1a" stroke-width="4" stroke-linecap="round"/>
<line x1="793.55" y1="525.16" x2="839.10" y2="604.05" stroke="#fff" stroke-width="2.1" stroke-linecap="round"/>
<circle cx="839.10" cy="604.05" r="16.00" fill="none" stroke="#1a1a1a" stroke-width="1.1"/>
<line x1="797.17" y1="522.37" x2="840.80" y2="566.00" stroke="#2e2e2e" stroke-width="2.2" stroke-linecap="round"/>
<line x1="797.17" y1="522.37" x2="840.80" y2="566.00" stroke="#8a8a8a" stroke-width="0.5" stroke-linecap="round"/>
<line x1="799.96" y1="518.75" x2="868.98" y2="558.60" stroke="#2e2e2e" stroke-width="2.2" stroke-linecap="round"/>
<line x1="799.96" y1="518.75" x2="868.98" y2="558.60" stroke="#8a8a8a" stroke-width="0.5" stroke-linecap="round"/>
<line x1="801.70" y1="514.53" x2="861.30" y2="530.50" stroke="#2e2e2e" stroke-width="2.2" stroke-linecap="round"/>
<line x1="801.70" y1="514.53" x2="861.30" y2="530.50" stroke="#8a8a8a" stroke-width="0.5" stroke-linecap="round"/>
<polygon points="802.65,510.00 802.51,511.16 802.15,512.28 801.72,513.37 801.37,514.44 801.14,515.55 800.97,516.70 800.72,517.85 800.26,518.92 799.56,519.86 798.68,520.65 797.77,521.38 796.93,522.13 796.18,522.97 795.45,523.88 794.66,524.76 793.72,525.46 792.65,525.92 791.50,526.17 790.35,526.34 789.24,526.57 788.17,526.92 787.08,527.35 785.96,527.71 784.80,527.85 783.64,527.71 782.52,527.35 781.43,526.92 780.36,526.57 779.25,526.34 778.10,526.17 776.95,525.92 775.88,525.46 774.94,524.76 774.15,523.88 773.42,522.97 772.67,522.13 771.83,521.38 770.92,520.65 770.04,519.86 769.34,518.92 768.88,517.85 768.63,516.70 768.46,515.55 768.23,514.44 767.88,513.37 767.45,512.28 767.09,511.16 766.95,510.00 767.09,508.84 767.45,507.72 767.88,506.63 768.23,505.56 768.46,504.45 768.63,503.30 768.88,502.15 769.34,501.07 770.04,500.14 770.92,499.35 771.83,498.62 772.67,497.87 773.42,497.03 774.15,496.12 774.94,495.24 775.88,494.54 776.95,494.08 778.10,493.83 779.25,493.66 780.36,493.43 781.43,493.08 782.52,492.65 783.64,492.29 784.80,492.15 785.96,492.29 787.08,492.65 788.17,493.08 789.24,493.43 790.35,493.66 791.50,493.83 792.65,494.08 793.72,494.54 794.66,495.24 795.45,496.12 796.18,497.03 796.93,497.87 797.77,498.62 798.68,499.35 799.56,500.14 800.26,501.07 800.72,502.15 800.97,503.30 801.14,504.45 801.37,505.56 801.72,506.63 802.15,507.72 802.51,508.84" fill="#fff" stroke="#1a1a1a" stroke-width="2.1"/>
<line x1="619.70" y1="103.10" x2="619.70" y2="349.50" stroke="#1a1a1a" stroke-width="1.0" />
<line x1="619.70" y1="103.10" x2="651.70" y2="103.10" stroke="#1a1a1a" stroke-width="1.0" />
<line x1="614.80" y1="215.20" x2="640.00" y2="215.20" stroke="#1a1a1a" stroke-width="1.0" />
<line x1="613.80" y1="349.50" x2="641.30" y2="349.50" stroke="#1a1a1a" stroke-width="1.0" />
<line x1="754.00" y1="109.50" x2="803.20" y2="109.50" stroke="#1a1a1a" stroke-width="1.4" />
<rect x="760.00" y="103.00" width="38.00" height="6.30" fill="#fff" stroke="#1a1a1a" stroke-width="0.9" />
<line x1="754.00" y1="89.60" x2="803.20" y2="89.60" stroke="#1a1a1a" stroke-width="0.9" />
<line x1="754.00" y1="86.00" x2="754.00" y2="105.60" stroke="#1a1a1a" stroke-width="0.9" />
<line x1="803.20" y1="86.00" x2="803.20" y2="105.60" stroke="#1a1a1a" stroke-width="0.9" />
<line x1="690.50" y1="118.30" x2="740.50" y2="118.30" stroke="#1a1a1a" stroke-width="0.9" />
<line x1="740.50" y1="98.70" x2="740.50" y2="118.30" stroke="#1a1a1a" stroke-width="0.9" />
<line x1="736.00" y1="103.20" x2="754.00" y2="103.20" stroke="#1a1a1a" stroke-width="0.9" />
<line x1="736.00" y1="109.50" x2="754.00" y2="109.50" stroke="#1a1a1a" stroke-width="0.9" />
<rect x="774.10" y="110.20" width="7.60" height="4.40" fill="#fff" stroke="#1a1a1a" stroke-width="1.2" rx="1.5"/>
<circle cx="776.60" cy="112.40" r="1.10" fill="none" stroke="#1a1a1a" stroke-width="0.8"/>
<circle cx="779.20" cy="112.40" r="1.10" fill="none" stroke="#1a1a1a" stroke-width="0.8"/>
<rect x="775.30" y="114.60" width="5.20" height="3.60" fill="#fff" stroke="#1a1a1a" stroke-width="1.2" rx="1.2"/>
<line x1="777.90" y1="117.40" x2="777.90" y2="128.70" stroke="#1a1a1a" stroke-width="1.6" />
<rect x="774.30" y="128.70" width="7.2" height="13.90" rx="3.4" fill="#fff" stroke="#1a1a1a" stroke-width="1.5"/>
<rect x="774.30" y="150.40" width="7.2" height="7.90" rx="3.4" fill="#fff" stroke="#1a1a1a" stroke-width="1.5"/>
<rect x="774.30" y="168.70" width="7.2" height="14.80" rx="3.4" fill="#fff" stroke="#1a1a1a" stroke-width="1.5"/>
<line x1="777.90" y1="142.60" x2="777.90" y2="146.00" stroke="#1a1a1a" stroke-width="1.6" />
<line x1="777.90" y1="158.30" x2="777.90" y2="168.70" stroke="#1a1a1a" stroke-width="1.6" />
<line x1="777.90" y1="183.50" x2="777.90" y2="194.00" stroke="#1a1a1a" stroke-width="1.6" />
<path d="M770.4,148.5 C773.9,145 777.9,149.5 779.9,148 C781.9,146.5 783.9,146.5 784.9,147.5" fill="none" stroke="#1a1a1a" stroke-width="1.3" />
<path d="M770.4,151 C773.9,147.5 777.9,152 779.9,150.5 C781.9,149 783.9,149 784.9,150" fill="none" stroke="#1a1a1a" stroke-width="1.3" />
<path d="M780.9,197 C779.9,193 774.4,193 774.4,199 L774.4,208 C774.4,211 780.9,211 780.9,208" fill="none" stroke="#1a1a1a" stroke-width="1.5" />
<rect x="777.40" y="200.00" width="3.50" height="4.00" fill="#fff" stroke="#1a1a1a" stroke-width="1" />
<rect x="774.90" y="208.00" width="6.00" height="5.00" fill="#fff" stroke="#1a1a1a" stroke-width="1.2" />
<rect x="766.20" y="214.20" width="24.30" height="1.70" fill="#1a1a1a" stroke="none" stroke-width="1.0" rx="0.8"/>
<polygon points="769.40,215.80 788.30,215.80 783.30,220.50 774.10,220.50" fill="#fff" stroke="#1a1a1a" stroke-width="1"/>
<polygon points="774.10,220.50 783.30,220.50 783.30,225.00 787.30,228.10 770.20,228.10 774.10,225.00" fill="#fff" stroke="#1a1a1a" stroke-width="1"/>
<rect x="770.20" y="228.10" width="17.10" height="14.40" fill="#fff" stroke="#1a1a1a" stroke-width="1.1" />
<rect x="770.20" y="228.10" width="17.10" height="2.20" fill="#333" stroke="none" stroke-width="1.0" />
<rect x="770.20" y="240.30" width="17.10" height="2.40" fill="#333" stroke="none" stroke-width="1.0" />
<line x1="778.70" y1="230.00" x2="778.70" y2="240.50" stroke="#777" stroke-width="0.8" />
<polygon points="771.00,242.50 786.50,242.50 783.00,246.00 783.00,250.50 774.00,250.50 774.00,246.00" fill="#fff" stroke="#1a1a1a" stroke-width="1"/>
<rect x="768.20" y="251.20" width="20.30" height="1.90" fill="#1a1a1a" stroke="none" stroke-width="1.0" />
<rect x="768.80" y="252.00" width="19.70" height="65.00" fill="#fff" stroke="#1a1a1a" stroke-width="1.6" />
<line x1="771.60" y1="252.00" x2="771.60" y2="317.00" stroke="#666" stroke-width="1.0" />
<line x1="774.20" y1="252.00" x2="774.20" y2="317.00" stroke="#222" stroke-width="1.3" />
<line x1="776.90" y1="252.00" x2="776.90" y2="317.00" stroke="#888" stroke-width="0.9" />
<line x1="780.40" y1="252.00" x2="780.40" y2="317.00" stroke="#888" stroke-width="0.9" />
<line x1="783.10" y1="252.00" x2="783.10" y2="317.00" stroke="#222" stroke-width="1.3" />
<line x1="785.70" y1="252.00" x2="785.70" y2="317.00" stroke="#666" stroke-width="1.0" />
<rect x="767.50" y="316.00" width="21.50" height="1.80" fill="#1a1a1a" stroke="none" stroke-width="1.0" />
<polygon points="773.00,318.00 783.00,318.00 786.00,328.00 770.00,328.00" fill="#fff" stroke="#1a1a1a" stroke-width="1"/>
<rect x="762.40" y="328.00" width="32.60" height="11.00" fill="#fff" stroke="#1a1a1a" stroke-width="1.1" />
<polygon points="764.00,339.00 794.00,339.00 784.00,345.20 773.00,345.20" fill="#fff" stroke="#1a1a1a" stroke-width="1"/>
<rect x="762.40" y="337.50" width="32.60" height="1.60" fill="#444" stroke="none" stroke-width="1.0" />
<rect x="775.20" y="345.20" width="6.50" height="4.40" fill="#fff" stroke="#1a1a1a" stroke-width="1" />
<line x1="668.00" y1="314.00" x2="668.00" y2="335.20" stroke="#1a1a1a" stroke-width="1.1" />
<line x1="671.60" y1="314.00" x2="671.60" y2="332.40" stroke="#1a1a1a" stroke-width="1.1" />
<line x1="668.00" y1="335.20" x2="762.40" y2="335.20" stroke="#1a1a1a" stroke-width="1.1" />
<line x1="671.60" y1="332.40" x2="762.40" y2="332.40" stroke="#1a1a1a" stroke-width="1.1" />
<rect x="688.40" y="332.40" width="74.00" height="2.80" fill="#2a2a2a" stroke="none" stroke-width="1.0" />
<line x1="688.40" y1="333.80" x2="762.40" y2="333.80" stroke="#888" stroke-width="0.5" />
<line x1="795.00" y1="332.40" x2="885.60" y2="332.40" stroke="#1a1a1a" stroke-width="1.1" />
<line x1="795.00" y1="335.20" x2="889.20" y2="335.20" stroke="#1a1a1a" stroke-width="1.1" />
<line x1="885.60" y1="332.40" x2="885.60" y2="314.00" stroke="#1a1a1a" stroke-width="1.1" />
<line x1="889.20" y1="335.20" x2="889.20" y2="314.00" stroke="#1a1a1a" stroke-width="1.1" />
<rect x="795.00" y="332.40" width="74.00" height="2.80" fill="#2a2a2a" stroke="none" stroke-width="1.0" />
<line x1="795.00" y1="333.80" x2="869.00" y2="333.80" stroke="#888" stroke-width="0.5" />
<rect x="653.00" y="244.00" width="34.00" height="62.40" fill="#fff" stroke="#1a1a1a" stroke-width="1.1" />
<line x1="656.78" y1="244.00" x2="656.78" y2="306.40" stroke="#808080" stroke-width="0.75" />
<line x1="660.56" y1="244.00" x2="660.56" y2="306.40" stroke="#808080" stroke-width="0.75" />
<line x1="664.33" y1="244.00" x2="664.33" y2="306.40" stroke="#808080" stroke-width="0.75" />
<line x1="668.11" y1="244.00" x2="668.11" y2="306.40" stroke="#808080" stroke-width="0.75" />
<line x1="671.89" y1="244.00" x2="671.89" y2="306.40" stroke="#808080" stroke-width="0.75" />
<line x1="675.67" y1="244.00" x2="675.67" y2="306.40" stroke="#808080" stroke-width="0.75" />
<line x1="679.44" y1="244.00" x2="679.44" y2="306.40" stroke="#808080" stroke-width="0.75" />
<line x1="683.22" y1="244.00" x2="683.22" y2="306.40" stroke="#808080" stroke-width="0.75" />
<rect x="653.00" y="304.20" width="34.00" height="2.20" fill="#222" stroke="none" stroke-width="1.0" />
<path d="M658,306.4 C665.8,307.4 665.8,310.4 665.5999999999999,311.79999999999995 L674.0,311.79999999999995 C673.8,310.4 673.8,307.4 682,306.4 Z" fill="#fff" stroke="#1a1a1a" stroke-width="1" />
<rect x="664.40" y="311.80" width="10.80" height="4.20" fill="#ddd" stroke="#1a1a1a" stroke-width="1.2" rx="2"/>
<rect x="870.10" y="243.60" width="33.40" height="62.60" fill="#fff" stroke="#1a1a1a" stroke-width="1.1" />
<line x1="873.81" y1="243.60" x2="873.81" y2="306.20" stroke="#808080" stroke-width="0.75" />
<line x1="877.52" y1="243.60" x2="877.52" y2="306.20" stroke="#808080" stroke-width="0.75" />
<line x1="881.23" y1="243.60" x2="881.23" y2="306.20" stroke="#808080" stroke-width="0.75" />
<line x1="884.94" y1="243.60" x2="884.94" y2="306.20" stroke="#808080" stroke-width="0.75" />
<line x1="888.66" y1="243.60" x2="888.66" y2="306.20" stroke="#808080" stroke-width="0.75" />
<line x1="892.37" y1="243.60" x2="892.37" y2="306.20" stroke="#808080" stroke-width="0.75" />
<line x1="896.08" y1="243.60" x2="896.08" y2="306.20" stroke="#808080" stroke-width="0.75" />
<line x1="899.79" y1="243.60" x2="899.79" y2="306.20" stroke="#808080" stroke-width="0.75" />
<rect x="870.10" y="304.00" width="33.40" height="2.20" fill="#222" stroke="none" stroke-width="1.0" />
<path d="M875.1,306.2 C883.4,307.2 883.4,310.2 883.1999999999999,311.59999999999997 L891.6,311.59999999999997 C891.4,310.2 891.4,307.2 898.5,306.2 Z" fill="#fff" stroke="#1a1a1a" stroke-width="1" />
<rect x="882.00" y="311.60" width="10.80" height="4.20" fill="#ddd" stroke="#1a1a1a" stroke-width="1.2" rx="2"/>
<line x1="870.10" y1="224.20" x2="903.50" y2="224.20" stroke="#1a1a1a" stroke-width="0.9" />
<line x1="870.10" y1="220.40" x2="870.10" y2="236.40" stroke="#1a1a1a" stroke-width="0.9" />
<line x1="903.50" y1="220.40" x2="903.50" y2="236.40" stroke="#1a1a1a" stroke-width="0.9" />
<line x1="653.00" y1="378.40" x2="903.50" y2="378.40" stroke="#1a1a1a" stroke-width="1.0" />
<line x1="653.00" y1="357.00" x2="653.00" y2="381.70" stroke="#1a1a1a" stroke-width="1.0" />
<line x1="903.50" y1="356.70" x2="903.50" y2="381.30" stroke="#1a1a1a" stroke-width="1.0" />
<line x1="659.40" y1="651.60" x2="909.70" y2="651.60" stroke="#1a1a1a" stroke-width="1.1" />
<line x1="659.40" y1="598.00" x2="659.40" y2="654.80" stroke="#1a1a1a" stroke-width="1.1" />
<line x1="909.70" y1="598.00" x2="909.70" y2="654.80" stroke="#1a1a1a" stroke-width="1.1" />
<line x1="385.2" y1="500.9" x2="385.2" y2="588" stroke="#333" stroke-width="2.3"/>
<polygon points="383.80,587.00 386.60,587.00 385.20,592.00" fill="#333" stroke="none" stroke-width="0"/>
<line x1="436.4" y1="519.4" x2="436.4" y2="588" stroke="#333" stroke-width="2.3"/>
<polygon points="435.00,587.00 437.80,587.00 436.40,592.00" fill="#333" stroke="none" stroke-width="0"/>
<g id="txt">
<text class="s" x="560" y="32" font-size="21.2" textLength="211" lengthAdjust="spacingAndGlyphs">Габаритные размеры</text>
<text class="s" x="369" y="675.7" font-size="20" textLength="262" lengthAdjust="spacingAndGlyphs">Product coding: GLORIA SP6</text>

<text class="s b" x="328.6" y="44.5" font-size="17" textLength="216.5" lengthAdjust="spacingAndGlyphs">Закрепить планку к стене</text>
<text class="s" x="328.6" y="80.9" font-size="16.3" textLength="166" lengthAdjust="spacingAndGlyphs">Соединить на клемме</text>
<text class="s b" x="332.5" y="118" font-size="17" textLength="213" lengthAdjust="spacingAndGlyphs">Зафиксировать арматуру</text>
<text class="s b" x="328" y="155.8" font-size="17" textLength="172" lengthAdjust="spacingAndGlyphs">Закрепить арматуру</text>
<text class="s b" x="337.2" y="204.7" font-size="17" textLength="219" lengthAdjust="spacingAndGlyphs">Закрепить металлическое</text>
<text class="s b" x="337.2" y="223.5" font-size="17" textLength="164" lengthAdjust="spacingAndGlyphs">кольуо на плафоне</text>
<text class="s" x="335.5" y="259.7" font-size="16.3" textLength="128.7" lengthAdjust="spacingAndGlyphs">Поставить лампу</text>
<text class="s" x="334.2" y="292.7" font-size="16.3" textLength="144.3" lengthAdjust="spacingAndGlyphs">Поставить насадки</text>
<text class="s" x="329.5" y="326" font-size="16.3" textLength="141.2" lengthAdjust="spacingAndGlyphs">Поставить плафон</text>
<text class="s" x="329" y="364.9" font-size="16.3" textLength="192" lengthAdjust="spacingAndGlyphs">Поставить декоративные</text>
<text class="s" x="329" y="384.4" font-size="16.3" textLength="75.4" lengthAdjust="spacingAndGlyphs">элементы</text>

<text class="s" x="743.6" y="87.1" font-size="17" textLength="69.4" lengthAdjust="spacingAndGlyphs">Ø150mm</text>
<text class="s" x="690" y="116.2" font-size="17" textLength="48" lengthAdjust="spacingAndGlyphs">20mm</text>
<text class="s" x="827.2" y="221.3" font-size="17" textLength="119.2" lengthAdjust="spacingAndGlyphs">Ø100*H190mm</text>
<text class="s" x="743" y="374" font-size="17" textLength="70.4" lengthAdjust="spacingAndGlyphs">Ø770mm</text>
<text class="s" x="748.5" y="648.3" font-size="17" textLength="70.4" lengthAdjust="spacingAndGlyphs">Ø770mm</text>
<text class="s" transform="translate(618.2,194.6) rotate(-90)" font-size="17.8" textLength="71.5" lengthAdjust="spacingAndGlyphs">H500mm</text>
<text class="s" transform="translate(618.2,317.3) rotate(-90)" font-size="17.8" textLength="69.6" lengthAdjust="spacingAndGlyphs">H415mm</text>

<text class="n" transform="translate(315.00,44.60) scale(0.88,1)" x="0" y="0" font-size="23.5">1</text>
<text class="n" transform="translate(315.10,81.50) scale(0.88,1)" x="0" y="0" font-size="23.5">2</text>
<text class="n" transform="translate(315.80,120.40) scale(0.88,1)" x="0" y="0" font-size="23.5">3</text>
<text class="n" transform="translate(316.00,156.80) scale(0.88,1)" x="0" y="0" font-size="23.5">4</text>
<text class="n" transform="translate(312.50,209.60) scale(0.88,1)" x="0" y="0" font-size="23.5">8</text>
<text class="n" transform="translate(318.30,258.40) scale(0.88,1)" x="0" y="0" font-size="23.5">7</text>
<text class="n" transform="translate(314.90,295.40) scale(0.88,1)" x="0" y="0" font-size="23.5">6</text>
<text class="n" transform="translate(313.40,328.40) scale(0.88,1)" x="0" y="0" font-size="23.5">5</text>
<text class="n" transform="translate(313.90,365.60) scale(0.88,1)" x="0" y="0" font-size="23.5">9</text>
<text class="n" transform="translate(315.40,419.20) scale(0.62,1)" x="0" y="0" font-size="22.5">A</text>
<text class="n" transform="translate(314.60,456.90) scale(0.72,1)" x="0" y="0" font-size="22.5">B</text>
<text class="n" transform="translate(381.50,617.00) scale(0.62,1)" x="0" y="0" font-size="22.5">A</text>
<text class="n" transform="translate(431.50,617.00) scale(0.76,1)" x="0" y="0" font-size="22.5">B</text>
</g>
</svg>
</body></html>
